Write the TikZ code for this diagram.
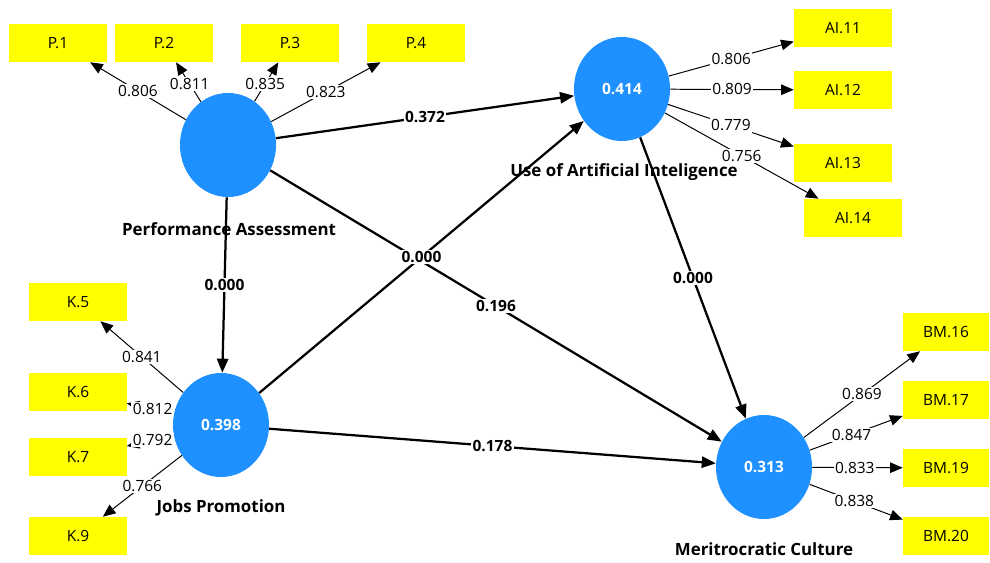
\documentclass[tikz,border=0pt]{standalone}
\usepackage{fontspec}
\setmainfont{Open Sans}
\usepackage{tikz}
\usetikzlibrary{shapes.geometric, arrows.meta, positioning}
\definecolor{lvblue}{HTML}{1E90FF}
\definecolor{mvyellow}{HTML}{FFFF00}
\tikzset{
  latent/.style={ellipse, fill=lvblue, minimum width=2.4cm, minimum height=2.6cm,
                 inner sep=0pt, text=white, font=\fontsize{11}{13}\selectfont\bfseries},
  indbox/.style={rectangle, fill=mvyellow, minimum width=2.425cm, minimum height=0.95cm,
                 inner sep=0pt, font=\fontsize{11}{13}\selectfont},
  lvname/.style={font=\fontsize{12}{14}\selectfont\bfseries},
  loadarr/.style={-{Triangle[length=9pt, width=7.5pt]}, line width=0.7pt},
  patharr/.style={-{Triangle[length=10pt, width=8pt]}, line width=1.6pt},
}

\begin{document}
\begin{tikzpicture}[x=0.025cm, y=-0.025cm]
  % Define styles
  \tikzstyle{load} = [fill=white, inner sep=1pt, font=\fontsize{11}{13}\selectfont]
  \tikzstyle{coef} = [fill=white, inner sep=1pt, font=\fontsize{11}{13}\selectfont\bfseries]

  \useasboundingbox (0,0) rectangle (990,563);

  % Latent variables
  \node [latent] (pa) at (228,145) {};
  \node [latent] (jp) at (221,425) {0.398};
  \node [latent] (ai) at (622,89) {0.414};
  \node [latent] (mc) at (764,467) {0.313};

  % Indicators
  \node [indbox] (p1) at (58,43) {P.1};
  \node [indbox] (p2) at (164,43) {P.2};
  \node [indbox] (p3) at (290,43) {P.3};
  \node [indbox] (p4) at (416,43) {P.4};

  \node [indbox, minimum width=2.45cm] (ai11) at (843,28) {AI.11};
  \node [indbox, minimum width=2.45cm] (ai12) at (843,90) {AI.12};
  \node [indbox, minimum width=2.45cm] (ai13) at (843,163) {AI.13};
  \node [indbox, minimum width=2.45cm] (ai14) at (853,218) {AI.14};

  \node [indbox, minimum width=2.15cm] (bm16) at (946,332) {BM.16};
  \node [indbox, minimum width=2.15cm] (bm17) at (946,400) {BM.17};
  \node [indbox, minimum width=2.15cm] (bm19) at (946,468) {BM.19};
  \node [indbox, minimum width=2.15cm] (bm20) at (946,536) {BM.20};

  \node [indbox] (k5) at (78,302) {K.5};
  \node [indbox] (k6) at (78,392) {K.6};
  \node [indbox] (k7) at (78,457) {K.7};
  \node [indbox] (k9) at (78,536) {K.9};

  % Outer loadings
  \draw [loadarr] (pa) -- node[load] {0.806} (p1);
  \draw [loadarr] (pa) -- node[load, pos=0.45] {0.811} (p2);
  \draw [loadarr] (pa) -- node[load, pos=0.45] {0.835} (p3);
  \draw [loadarr] (pa) -- node[load] {0.823} (p4);

  \draw [loadarr] (ai) -- node[load] {0.806} (ai11);
  \draw [loadarr] (ai) -- node[load] {0.809} (ai12);
  \draw [loadarr] (ai) -- node[load] {0.779} (ai13);
  \draw [loadarr] (ai) -- node[load] {0.756} (ai14);

  \draw [loadarr] (mc) -- node[load] {0.869} (bm16);
  \draw [loadarr] (mc) -- node[load, pos=0.45] {0.847} (bm17);
  \draw [loadarr] (mc) -- node[load, pos=0.47] {0.833} (bm19);
  \draw [loadarr] (mc) -- node[load, pos=0.48] {0.838} (bm20);

  \draw [loadarr] (jp) -- node[load] {0.841} (k5);
  \draw [loadarr] (jp) -- node[load, pos=0.45] {0.812} (k6);
  \draw [loadarr] (jp) -- node[load, pos=0.45] {0.792} (k7);
  \draw [loadarr] (jp) -- node[load] {0.766} (k9);

  % Path coefficients
  \draw [patharr] (pa) -- node[coef] {0.372} (ai);
  \draw [patharr] (pa) -- node[coef] {0.000} (jp);
  \draw [patharr] (pa) -- node[coef] {0.196} (mc);
  \draw [patharr] (jp) -- node[coef] {0.000} (ai);
  \draw [patharr] (ai) -- node[coef] {0.000} (mc);
  \draw [patharr] (jp) -- node[coef] {0.178} (mc);

  % Names
  \node [lvname] (paname) at (229,229) {Performance Assessment};
  \node [lvname] (jpname) at (221,508) {Jobs Promotion};
  \node [lvname] (ainame) at (624,172) {Use of Artificial Inteligence};
  \node [lvname] (mcname) at (764,549) {Meritrocratic Culture};
\end{tikzpicture}
\end{document}
